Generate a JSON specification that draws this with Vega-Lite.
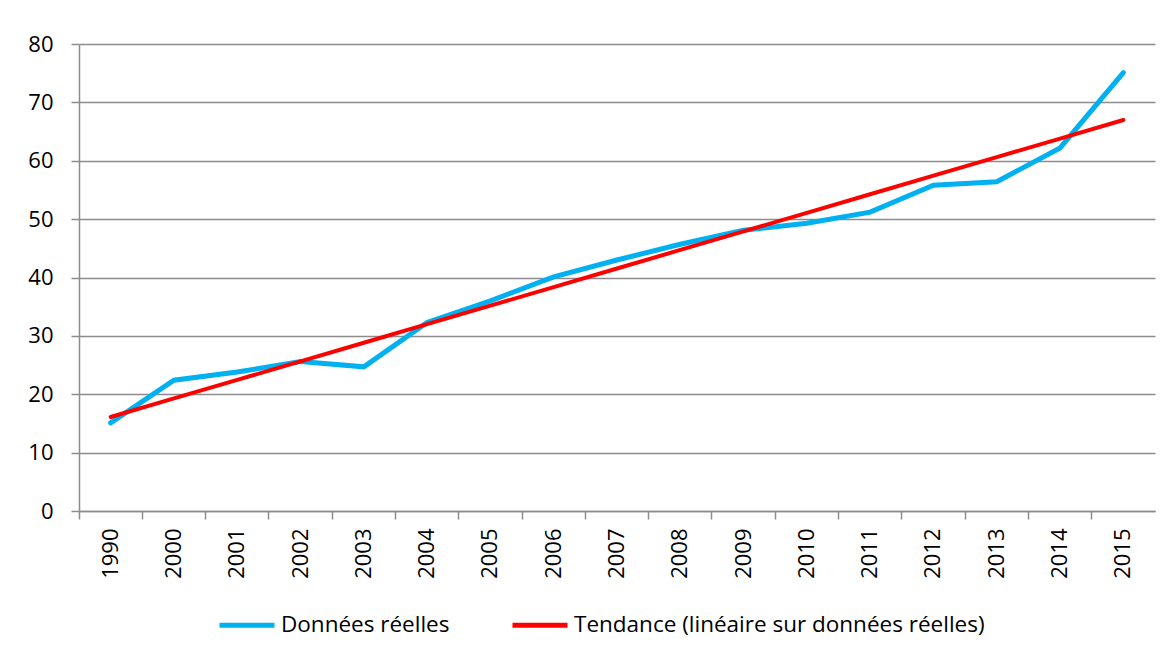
{
  "$schema": "https://vega.github.io/schema/vega-lite/v6.json",
  "width": 1076,
  "height": 467,
  "autosize": {"type": "none"},
  "padding": {"left": 79, "top": 44, "right": 16, "bottom": 142},
  "background": "white",
  "config": {
    "view": {"stroke": null},
    "font": "Open Sans",
    "axis": {
      "labelFontSize": 22,
      "labelColor": "#000000",
      "domainColor": "#8c8c8c",
      "domainWidth": 1.5,
      "tickColor": "#8c8c8c",
      "tickWidth": 1.5,
      "tickSize": 8,
      "gridColor": "#8c8c8c",
      "gridWidth": 1.5,
      "gridOpacity": 1,
      "title": null
    },
    "legend": {
      "orient": "none",
      "legendX": 138,
      "legendY": 551,
      "direction": "horizontal",
      "symbolType": "stroke",
      "symbolSize": 3025,
      "symbolStrokeWidth": 5,
      "labelFontSize": 22.5,
      "labelColor": "#000000",
      "labelOffset": 4,
      "columnPadding": 52,
      "labelLimit": 600,
      "title": null
    }
  },
  "data": {
    "values": [
      {"year": "1990", "series": "Données réelles", "value": 15.1},
      {"year": "2000", "series": "Données réelles", "value": 22.4},
      {"year": "2001", "series": "Données réelles", "value": 23.8},
      {"year": "2002", "series": "Données réelles", "value": 25.6},
      {"year": "2003", "series": "Données réelles", "value": 24.7},
      {"year": "2004", "series": "Données réelles", "value": 32.3},
      {"year": "2005", "series": "Données réelles", "value": 36.0},
      {"year": "2006", "series": "Données réelles", "value": 40.1},
      {"year": "2007", "series": "Données réelles", "value": 43.0},
      {"year": "2008", "series": "Données réelles", "value": 45.7},
      {"year": "2009", "series": "Données réelles", "value": 48.1},
      {"year": "2010", "series": "Données réelles", "value": 49.3},
      {"year": "2011", "series": "Données réelles", "value": 51.2},
      {"year": "2012", "series": "Données réelles", "value": 55.8},
      {"year": "2013", "series": "Données réelles", "value": 56.4},
      {"year": "2014", "series": "Données réelles", "value": 62.2},
      {"year": "2015", "series": "Données réelles", "value": 75.1},
      {"year": "1990", "series": "Tendance (linéaire sur données réelles)", "value": 16.1},
      {"year": "2000", "series": "Tendance (linéaire sur données réelles)", "value": 19.28},
      {"year": "2001", "series": "Tendance (linéaire sur données réelles)", "value": 22.46},
      {"year": "2002", "series": "Tendance (linéaire sur données réelles)", "value": 25.64},
      {"year": "2003", "series": "Tendance (linéaire sur données réelles)", "value": 28.82},
      {"year": "2004", "series": "Tendance (linéaire sur données réelles)", "value": 32.0},
      {"year": "2005", "series": "Tendance (linéaire sur données réelles)", "value": 35.18},
      {"year": "2006", "series": "Tendance (linéaire sur données réelles)", "value": 38.36},
      {"year": "2007", "series": "Tendance (linéaire sur données réelles)", "value": 41.54},
      {"year": "2008", "series": "Tendance (linéaire sur données réelles)", "value": 44.72},
      {"year": "2009", "series": "Tendance (linéaire sur données réelles)", "value": 47.9},
      {"year": "2010", "series": "Tendance (linéaire sur données réelles)", "value": 51.08},
      {"year": "2011", "series": "Tendance (linéaire sur données réelles)", "value": 54.26},
      {"year": "2012", "series": "Tendance (linéaire sur données réelles)", "value": 57.44},
      {"year": "2013", "series": "Tendance (linéaire sur données réelles)", "value": 60.62},
      {"year": "2014", "series": "Tendance (linéaire sur données réelles)", "value": 63.8},
      {"year": "2015", "series": "Tendance (linéaire sur données réelles)", "value": 66.98}
    ]
  },
  "encoding": {
    "x": {
      "field": "year",
      "type": "ordinal",
      "scale": {"type": "band", "paddingInner": 0, "paddingOuter": 0},
      "axis": {"labelAngle": -90, "labelPadding": 9, "bandPosition": 0, "grid": false, "labelAlign": "right", "labelBaseline": "middle"}
    },
    "y": {
      "field": "value",
      "type": "quantitative",
      "scale": {"domain": [0, 80], "nice": false},
      "axis": {"values": [0, 10, 20, 30, 40, 50, 60, 70, 80], "labelPadding": 18, "grid": true}
    },
    "color": {
      "field": "series",
      "type": "nominal",
      "scale": {
        "domain": ["Données réelles", "Tendance (linéaire sur données réelles)"],
        "range": ["#00B0F0", "#FF0000"]
      }
    }
  },
  "layer": [
    {
      "transform": [{"filter": "datum.series === 'Données réelles'"}],
      "mark": {"type": "line", "strokeWidth": 5, "strokeCap": "round", "strokeJoin": "miter"}
    },
    {
      "transform": [{"filter": "datum.series !== 'Données réelles'"}],
      "mark": {"type": "line", "strokeWidth": 4, "strokeCap": "round"}
    }
  ]
}
